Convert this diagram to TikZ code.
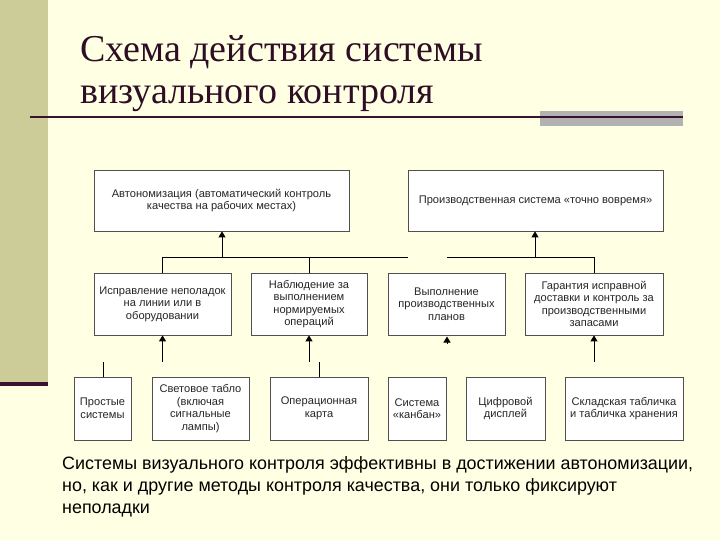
\documentclass[tikz,border=0pt]{standalone}
\usepackage{fontspec}
\setmainfont{Liberation Serif}
\newfontfamily\boxfont{Liberation Sans}
\usetikzlibrary{arrows.meta}
\definecolor{bgc}{HTML}{FFFFE3}
\definecolor{barc}{HTML}{CCCC99}
\definecolor{titlec}{HTML}{2E0D25}
\definecolor{rulec}{HTML}{3A1230}
\definecolor{grayc}{HTML}{B2B2B2}
\definecolor{edgec}{HTML}{505050}
\tikzset{
  box/.style={draw=edgec, line width=0.8pt, fill=white, align=center, inner sep=2pt,
    font=\boxfont\fontsize{11.1}{12.6}\selectfont, text=black!85},
  conn/.style={draw=black, line width=0.9pt},
  arr/.style={conn, -{Triangle[length=6pt,width=7pt]}},
}
\begin{document}
\begin{tikzpicture}[x=1pt,y=-1pt]
\useasboundingbox (0,0) rectangle (720,540);
\fill[bgc] (0,0) rectangle (720,540);
% left bar
\fill[barc] (0,0) rectangle (48,382);
\fill[rulec] (0,382) rectangle (48,385.5);
% title
\node[anchor=base west, inner sep=0, text=titlec, font=\fontsize{38}{42}\selectfont] (t1) at (80,62) {Схема действия системы};
\node[anchor=base west, inner sep=0, text=titlec, font=\fontsize{38}{42}\selectfont] (t2) at (80,104) {визуального контроля};
% rule
\fill[grayc] (540,111) rectangle (683,126);
\draw[rulec, line width=2pt] (30,117) -- (683,117);
% row 1
\node[box, minimum width=255pt, minimum height=61pt] (A) at (221.5,200.5) {Автономизация (автоматический контроль\\качества на рабочих местах)};
\node[box, minimum width=255pt, minimum height=61pt] (B) at (535.5,200.5) {Производственная система «точно вовремя»};
% row 2
\node[box, minimum width=137pt, minimum height=62pt] (C) at (162.5,304) {Исправление неполадок\\на линии или в\\оборудовании};
\node[box, minimum width=116pt, minimum height=62pt] (D) at (309,304) {Наблюдение за\\выполнением\\нормируемых\\операций};
\node[box, minimum width=117pt, minimum height=62pt] (E) at (446.5,304) {Выполнение\\производственных\\планов};
\node[box, minimum width=138pt, minimum height=62pt] (F) at (594,304) {Гарантия исправной\\доставки и контроль за\\производственными\\запасами};
% row 3
\node[box, minimum width=57pt, minimum height=63pt] (G) at (102.5,408.5) {Простые\\системы};
\node[box, minimum width=97pt, minimum height=63pt] (H) at (200.5,408.5) {Световое табло\\(включая\\сигнальные\\лампы)};
\node[box, minimum width=98pt, minimum height=63pt] (I) at (319,408.5) {Операционная\\карта};
\node[box, minimum width=58pt, minimum height=63pt] (J) at (417,408.5) {Система\\«канбан»};
\node[box, minimum width=79pt, minimum height=63pt] (K) at (505.5,408.5) {Цифровой\\дисплей};
\node[box, minimum width=118pt, minimum height=63pt] (L) at (624,408.5) {Складская табличка\\и табличка хранения};
% bus coordinates
\coordinate (bC) at (162.5,257);
\coordinate (bA) at (222,257);
\coordinate (bD) at (309,257);
\coordinate (bgap1) at (408,257);
\coordinate (bgap2) at (447,257);
\coordinate (bB) at (535,257);
\coordinate (bF) at (594,257);
\draw[conn] (bC) -- (bgap1);
\draw[conn] (bgap2) -- (bF);
\draw[conn] (bC) -- (C.north);
\draw[conn] (bD) -- (D.north);
\draw[conn] (bF) -- (F.north);
\draw[arr] (bA) -- (A.south -| bA);
\draw[arr] (bB) -- (B.south -| bB);
% lower connectors
\coordinate (sG) at (103,362);
\coordinate (sI) at (319,362);
\coordinate (aC) at (162.5,362);
\coordinate (aD) at (309,362);
\coordinate (aF) at (594,362);
\coordinate (aE1) at (447,344);
\coordinate (aE2) at (447,337);
\draw[conn] (sG) -- (G.north -| sG);
\draw[conn] (sI) -- (I.north -| sI);
\draw[arr] (aC) -- (C.south);
\draw[arr] (aD) -- (D.south);
\draw[arr] (aF) -- (F.south);
\draw[arr, shorten >=-0.5pt] (aE1) -- (aE2);
% bottom note
\node[anchor=north west, inner sep=0, align=left, text=black, font=\boxfont\fontsize{17.9}{22}\selectfont] (note) at (62,456) {Системы визуального контроля эффективны в достижении автономизации,\\но, как и другие методы контроля качества, они только фиксируют\\неполадки};
\end{tikzpicture}
\end{document}
